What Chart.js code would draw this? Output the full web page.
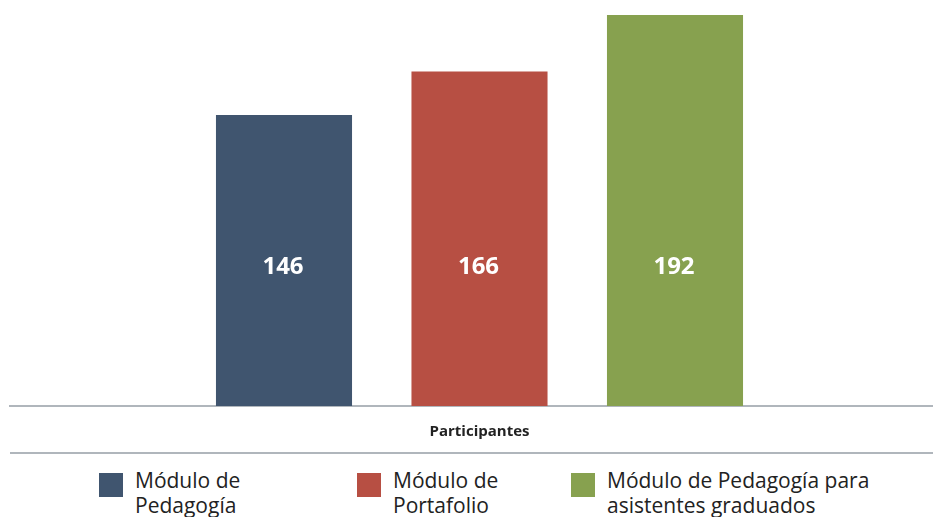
<!DOCTYPE html>
<html>
<head>
<meta charset="utf-8">
<script src="https://cdn.jsdelivr.net/npm/chart.js@4"></script>
<style>
  html, body { margin: 0; padding: 0; background: #fff; overflow: hidden; }
  body { width: 933px; height: 517px; position: relative; font-family: "Open Sans", sans-serif; }
  #wrap { position: absolute; left: 0; top: 0; width: 949px; height: 454px; }
  #legend { position: absolute; left: 0; top: 468px; width: 933px; height: 60px; }
  .item { position: absolute; top: 0; display: flex; align-items: flex-start; }
  .item .box { width: 24px; height: 24px; margin-top: 5px; margin-right: 12px; flex: none; }
  .item .txt { font-size: 21px; line-height: 25px; color: #222; }
  .item:nth-child(1) { left: 99px; } .item:nth-child(1) .txt { width: 120px; }
  .item:nth-child(2) { left: 357px; } .item:nth-child(2) .txt { width: 120px; }
  .item:nth-child(3) { left: 571px; } .item:nth-child(3) .txt { width: 300px; }
</style>
</head>
<body>
<div id="wrap"><canvas id="chart"></canvas></div>
<div id="legend"></div>
<script>
const categories = ["Participantes"]
const seriesNames = ["Módulo de Pedagogía", "Módulo de Portafolio", "Módulo de Pedagogía para asistentes graduados"]
const seriesValues = [[146], [166], [192]]
const seriesColors = ["#40556f", "#b74f43", "#87a14f"]

const lineColor = "#b0b6bc"

// white numbers inside the bars, all on the same height
const barLabels = {
  id: "barLabels",
  afterDatasetsDraw(chart) {
    const ctx = chart.ctx
    ctx.save()
    ctx.fillStyle = "#fff"
    ctx.font = "bold 24px 'Open Sans'"
    ctx.textAlign = "center"
    ctx.textBaseline = "middle"
    chart.data.datasets.forEach((ds, i) => {
      chart.getDatasetMeta(i).data.forEach((bar, j) => {
        ctx.fillText(ds.data[j], bar.x - 1, 267)
      })
    })
    ctx.restore()
  }
}

// second rule under the category label
const bottomRule = {
  id: "bottomRule",
  afterDraw(chart) {
    const ctx = chart.ctx
    const x = chart.scales.x
    ctx.save()
    ctx.strokeStyle = lineColor
    ctx.lineWidth = 2
    ctx.beginPath()
    ctx.moveTo(chart.chartArea.left, x.bottom - 1)
    ctx.lineTo(chart.width, x.bottom - 1)
    ctx.stroke()
    ctx.restore()
  }
}

const chart = new Chart(document.getElementById("chart"), {
  type: "bar",
  data: {
    labels: categories,
    datasets: seriesNames.map((name, i) => ({
      label: name,
      data: seriesValues[i],
      backgroundColor: seriesColors[i],
      categoryPercentage: 0.6246,
      barPercentage: 0.696
    }))
  },
  options: {
    responsive: true,
    maintainAspectRatio: false,
    animation: false,
    layout: { padding: { top: 15, left: 10, right: 0, bottom: 0 } },
    plugins: {
      legend: { display: false },
      tooltip: { enabled: false }
    },
    scales: {
      x: {
        grid: { display: false },
        border: { display: true, color: lineColor, width: 2 },
        ticks: {
          color: "#222",
          font: { family: "Open Sans", size: 15, weight: "bold" },
          padding: 9
        },
        afterFit(scale) { scale.height = 48 }
      },
      y: {
        display: false,
        min: 12,
        max: 192
      }
    }
  },
  plugins: [barLabels, bottomRule]
})

// html legend so the labels can wrap
const legend = document.getElementById("legend")
chart.data.datasets.forEach(ds => {
  const item = document.createElement("div")
  item.className = "item"
  const box = document.createElement("div")
  box.className = "box"
  box.style.background = ds.backgroundColor
  const txt = document.createElement("div")
  txt.className = "txt"
  txt.textContent = ds.label
  item.appendChild(box)
  item.appendChild(txt)
  legend.appendChild(item)
})
</script>
</body>
</html>
